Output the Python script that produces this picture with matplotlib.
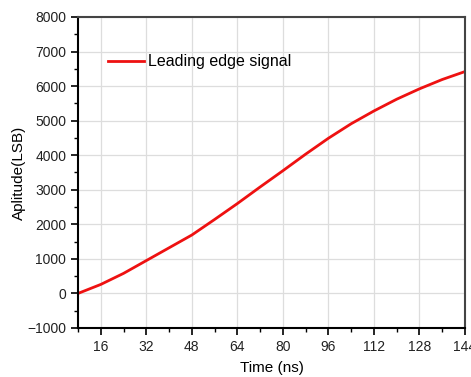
import matplotlib
matplotlib.use("Agg")
import matplotlib.pyplot as plt
from matplotlib.ticker import MultipleLocator

plt.rcParams['font.family'] = ['Liberation Sans', 'DejaVu Sans']

time_ns = [8, 16, 24, 32, 40, 48, 56, 64, 72, 80, 88, 96, 104, 112, 120, 128, 136, 144]
amplitude = [0, 260, 580, 950, 1320, 1690, 2140, 2600, 3080, 3550, 4030, 4490, 4910,
             5280, 5620, 5920, 6190, 6420]
series_label = "Leading edge signal"
x_ticks = [16, 32, 48, 64, 80, 96, 112, 128, 144]
y_ticks = [-1000, 0, 1000, 2000, 3000, 4000, 5000, 6000, 7000, 8000]

fig = plt.figure(figsize=(4.71, 3.77), dpi=100)
ax = fig.add_axes([0.1656, 0.13, 0.8216, 0.825])

ax.plot(time_ns, amplitude, color='#ee1111', lw=2.0, label=series_label)

ax.set_xlim(8, 144)
ax.set_ylim(-1000, 8000)
ax.set_xticks(x_ticks)
ax.set_yticks(y_ticks)
ax.xaxis.set_minor_locator(MultipleLocator(8))
ax.yaxis.set_minor_locator(MultipleLocator(500))
ax.tick_params(which='major', direction='out', length=5, width=1.2, labelsize=10,
               colors='black', top=False, right=False)
ax.tick_params(which='minor', direction='out', length=3, width=1.0, top=False, right=False)
for lab in ax.get_xticklabels() + ax.get_yticklabels():
    lab.set_color('#222222')

ax.grid(True, which='major', color='#dddddd', lw=0.9)
ax.set_axisbelow(True)
for s in ax.spines.values():
    s.set_linewidth(1.5)
    s.set_color('black')
ax.spines['top'].set_color('#444444')
ax.spines['right'].set_color('#444444')

ax.set_xlabel("Time (ns)", fontsize=11, labelpad=5)
ax.set_ylabel("Aplitude(LSB)", fontsize=11, labelpad=1)

ax.legend(loc='upper left', bbox_to_anchor=(0.06, 0.90), frameon=False,
          fontsize=11.5, handlelength=2.3, handletextpad=0.25, borderaxespad=0)

fig.savefig("out.png", dpi=100)
